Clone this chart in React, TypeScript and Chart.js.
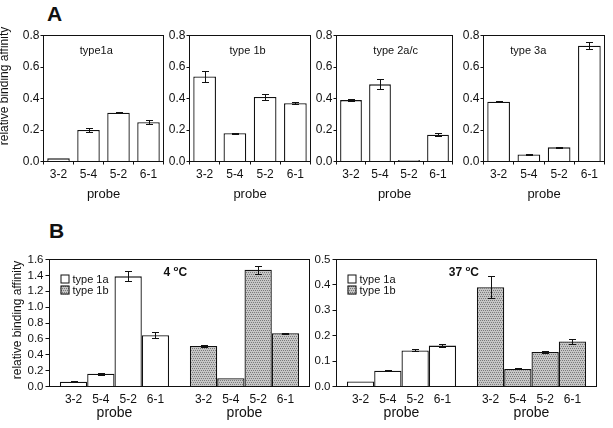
import React, { useEffect, useRef } from 'react';
import { Chart, registerables } from 'chart.js';

Chart.register(...registerables);

const FONT = '"Liberation Sans", Arial, Helvetica, sans-serif';
const INK = '#111';
Chart.defaults.font.family = FONT;
Chart.defaults.color = INK;

// ---------------- data ----------------
const probes = ['3-2', '5-4', '5-2', '6-1'];

// Panel A (relative binding affinity per probe)
const aType1a = [0.02, 0.2, 0.31, 0.25];
const aType1aErr = [0, 0.012, 0.005, 0.013];
const aType1b = [0.54, 0.18, 0.41, 0.37];
const aType1bErr = [0.034, 0.003, 0.018, 0.005];
const aType2ac = [0.39, 0.49, 0.01, 0.17];
const aType2acErr = [0.006, 0.032, 0, 0.008];
const aType3a = [0.38, 0.045, 0.09, 0.735];
const aType3aErr = [0.004, 0.002, 0.004, 0.023];
const aYMax = 0.8;
const aYStep = 0.2;

// Panel B
const bGroups = ['type 1a', 'type 1b'];
const b4cType1a = [0.06, 0.16, 1.388, 0.647];
const b4cType1aErr = [0.003, 0.01, 0.063, 0.038];
const b4cType1b = [0.51, 0.105, 1.47, 0.67];
const b4cType1bErr = [0.008, 0, 0.048, 0.01];
const b4cYMax = 1.6;
const b4cYStep = 0.2;
const b37cType1a = [0.02, 0.062, 0.142, 0.161];
const b37cType1aErr = [0, 0.001, 0.004, 0.007];
const b37cType1b = [0.391, 0.069, 0.136, 0.177];
const b37cType1bErr = [0.043, 0.002, 0.004, 0.009];
const b37cYMax = 0.5;
const b37cYStep = 0.1;

const yTitle = 'relative binding affinity';
const xTitle = 'probe';

// ---------------- helpers ----------------
type Box = { x: number; y: number; w: number; h: number };
type Area = { L: number; T: number; R: number; B: number };

let patternCache: CanvasPattern | null = null;
function greyPattern(): CanvasPattern {
  if (patternCache) return patternCache;
  const t = document.createElement('canvas');
  t.width = 4;
  t.height = 4;
  const g = t.getContext('2d')!;
  g.fillStyle = '#c6c6c6';
  g.fillRect(0, 0, 4, 4);
  g.fillStyle = '#7a7a7a';
  [[0, 0], [2, 0], [1, 2], [3, 2]].forEach(([px, py]) => g.fillRect(px, py, 1, 1));
  patternCache = g.createPattern(t, 'repeat')!;
  return patternCache;
}

function makeErrorBars(errs: number[][], cap: number) {
  return {
    id: 'errorBars',
    afterDatasetsDraw(chart: any) {
      const ctx = chart.ctx;
      const ys = chart.scales.y;
      ctx.save();
      ctx.strokeStyle = INK;
      ctx.lineWidth = 1;
      chart.data.datasets.forEach((ds: any, di: number) => {
        const meta = chart.getDatasetMeta(di);
        meta.data.forEach((el: any, i: number) => {
          const e = errs[di] ? errs[di][i] : 0;
          if (!e) return;
          const v = ds.data[i];
          const x = Math.round(el.x) + 0.5;
          const yTop = Math.round(ys.getPixelForValue(v + e)) + 0.5;
          const yBot = Math.round(ys.getPixelForValue(v - e)) + 0.5;
          ctx.beginPath();
          ctx.moveTo(x, yBot);
          ctx.lineTo(x, yTop);
          ctx.moveTo(x - cap, yTop);
          ctx.lineTo(x + cap, yTop);
          ctx.moveTo(x - cap, yBot);
          ctx.lineTo(x + cap, yBot);
          ctx.stroke();
        });
      });
      ctx.restore();
    },
  };
}

function drawFrame(chart: any) {
  const { ctx, chartArea: a } = chart;
  ctx.save();
  ctx.strokeStyle = INK;
  ctx.lineWidth = 1;
  ctx.strokeRect(a.left, a.top, a.right - a.left, a.bottom - a.top);
  ctx.restore();
}

function drawYTitle(chart: any, cx: number, cy: number, size: number) {
  const ctx = chart.ctx;
  ctx.save();
  ctx.translate(cx, cy);
  ctx.rotate(-Math.PI / 2);
  ctx.font = `${size}px ${FONT}`;
  ctx.fillStyle = INK;
  ctx.textAlign = 'center';
  ctx.textBaseline = 'middle';
  ctx.fillText(yTitle, 0, 0);
  ctx.restore();
}

function drawDegreeTitle(ctx: CanvasRenderingContext2D, cx: number, cy: number, num: string) {
  const big = `bold 12px ${FONT}`;
  const small = `bold 8px ${FONT}`;
  ctx.font = big;
  const w1 = ctx.measureText(num + ' ').width;
  const w3 = ctx.measureText('C').width;
  ctx.font = small;
  const w2 = ctx.measureText('o').width;
  let x = cx - (w1 + w2 + w3) / 2;
  ctx.fillStyle = INK;
  ctx.textAlign = 'left';
  ctx.textBaseline = 'alphabetic';
  ctx.font = big;
  ctx.fillText(num + ' ', x, cy + 4.5);
  x += w1;
  ctx.font = small;
  ctx.fillText('o', x, cy - 0.5);
  x += w2;
  ctx.font = big;
  ctx.fillText('C', x, cy + 4.5);
}

// ---------------- panel specs ----------------
type PanelA = {
  title: string;
  values: number[];
  errors: number[];
  canvas: Box;
  area: Area;
  titleFx: number;
  yTitle?: { x: number; y: number };
};

const panelsA: PanelA[] = [
  { title: 'type1a', values: aType1a, errors: aType1aErr, canvas: { x: 0, y: 20, w: 168, h: 185 }, area: { L: 43.5, T: 35.5, R: 163.5, B: 161.5 }, titleFx: 0.44, yTitle: { x: 5, y: 86 } },
  { title: 'type 1b', values: aType1b, errors: aType1bErr, canvas: { x: 160, y: 20, w: 155, h: 185 }, area: { L: 189.5, T: 35.5, R: 310.5, B: 161.5 }, titleFx: 0.48 },
  { title: 'type 2a/c', values: aType2ac, errors: aType2acErr, canvas: { x: 307, y: 20, w: 150, h: 185 }, area: { L: 336.5, T: 35.5, R: 452.5, B: 161.5 }, titleFx: 0.51 },
  { title: 'type 3a', values: aType3a, errors: aType3aErr, canvas: { x: 454, y: 20, w: 155, h: 185 }, area: { L: 483.5, T: 35.5, R: 604.5, B: 161.5 }, titleFx: 0.37 },
];

type PanelB = {
  temp: string;
  s1a: number[];
  s1aErr: number[];
  s1b: number[];
  s1bErr: number[];
  yMax: number;
  yStep: number;
  canvas: Box;
  area: Area;
  titleFx: number;
  yTitle?: { x: number; y: number };
};

const panelsB: PanelB[] = [
  { temp: '4', s1a: b4cType1a, s1aErr: b4cType1aErr, s1b: b4cType1b, s1bErr: b4cType1bErr, yMax: b4cYMax, yStep: b4cYStep, canvas: { x: 0, y: 240, w: 314, h: 188 }, area: { L: 49.5, T: 259.5, R: 309.5, B: 386.5 }, titleFx: 0.484, yTitle: { x: 18, y: 320 } },
  { temp: '37', s1a: b37cType1a, s1aErr: b37cType1aErr, s1b: b37cType1b, s1bErr: b37cType1bErr, yMax: b37cYMax, yStep: b37cYStep, canvas: { x: 300, y: 240, w: 306, h: 188 }, area: { L: 336.5, T: 259.5, R: 596.5, B: 386.5 }, titleFx: 0.49 },
];

// ---------------- config builders ----------------
function buildA(p: PanelA): any {
  const yW = p.area.L - p.canvas.x;
  const padTop = p.area.T - p.canvas.y;
  const padRight = p.canvas.x + p.canvas.w - p.area.R;
  const xH = p.canvas.y + p.canvas.h - p.area.B;
  const deco = {
    id: 'decoA',
    afterDraw(chart: any) {
      drawFrame(chart);
      const { ctx, chartArea: a } = chart;
      ctx.save();
      ctx.font = `11px ${FONT}`;
      ctx.fillStyle = INK;
      ctx.textAlign = 'center';
      ctx.textBaseline = 'middle';
      ctx.fillText(p.title, a.left + p.titleFx * (a.right - a.left), a.top + 15);
      ctx.restore();
      if (p.yTitle) drawYTitle(chart, p.yTitle.x - p.canvas.x, p.yTitle.y - p.canvas.y, 12);
    },
  };
  return {
    type: 'bar',
    data: {
      labels: probes,
      datasets: [
        {
          label: p.title,
          data: p.values,
          backgroundColor: '#ffffff',
          borderColor: INK,
          borderWidth: 1.3,
          borderSkipped: 'bottom',
          barPercentage: 0.75,
          categoryPercentage: 1,
        },
      ],
    },
    options: {
      responsive: false,
      animation: false,
      devicePixelRatio: 1,
      layout: { padding: { top: padTop, right: padRight, left: 0, bottom: 0 } },
      plugins: { legend: { display: false }, tooltip: { enabled: false } },
      scales: {
        x: {
          type: 'category',
          offset: true,
          border: { display: false },
          grid: { display: true, offset: true, drawOnChartArea: false, drawTicks: true, tickLength: 3, color: INK },
          ticks: { font: { size: 12 }, color: INK, padding: 3, autoSkip: false, maxRotation: 0 },
          title: { display: true, text: xTitle, font: { size: 13 }, color: INK, padding: { top: 0, bottom: 3 } },
          afterFit: (s: any) => {
            s.height = xH;
          },
        },
        y: {
          min: 0,
          max: aYMax,
          border: { display: false },
          grid: { drawOnChartArea: false, drawTicks: true, tickLength: 3, color: INK },
          ticks: { stepSize: aYStep, autoSkip: false, font: { size: 12 }, color: INK, padding: 1, callback: (v: any) => Number(v).toFixed(1) },
          afterFit: (s: any) => {
            s.width = yW;
          },
        },
      },
    },
    plugins: [makeErrorBars([p.errors], 3.5), deco],
  };
}

function buildB(p: PanelB): any {
  const yW = p.area.L - p.canvas.x;
  const padTop = p.area.T - p.canvas.y;
  const padRight = p.canvas.x + p.canvas.w - p.area.R;
  const xH = p.canvas.y + p.canvas.h - p.area.B;
  const pat = greyPattern();
  const fills = ['#ffffff', pat];
  const datasets = probes.map((probe, i) => ({
    label: probe,
    data: [p.s1a[i], p.s1b[i]],
    backgroundColor: fills,
    borderColor: INK,
    borderWidth: 1.3,
    borderSkipped: 'bottom',
    barPercentage: 1,
    categoryPercentage: 0.84,
  }));
  const errs = probes.map((_, i) => [p.s1aErr[i], p.s1bErr[i]]);
  const deco = {
    id: 'decoB',
    afterDraw(chart: any) {
      drawFrame(chart);
      const { ctx, chartArea: a } = chart;
      ctx.save();
      // probe names under every bar
      ctx.font = `12px ${FONT}`;
      ctx.fillStyle = INK;
      ctx.textAlign = 'center';
      ctx.textBaseline = 'middle';
      chart.data.datasets.forEach((ds: any, di: number) => {
        chart.getDatasetMeta(di).data.forEach((el: any) => {
          ctx.fillText(ds.label, el.x, a.bottom + 13.5);
        });
      });
      // legend
      const lx = a.left + 11;
      const ly = a.top + 15;
      bGroups.forEach((g, gi) => {
        const by = ly + gi * 11;
        ctx.fillStyle = fills[gi] as any;
        ctx.fillRect(lx, by, 9, 9);
        ctx.strokeStyle = INK;
        ctx.lineWidth = 1;
        ctx.strokeRect(lx + 0.5, by + 0.5, 8, 8);
        ctx.fillStyle = INK;
        ctx.font = `11px ${FONT}`;
        ctx.textAlign = 'left';
        ctx.textBaseline = 'middle';
        ctx.fillText(g, lx + 12, by + 5);
      });
      // temperature title
      drawDegreeTitle(ctx, a.left + p.titleFx * (a.right - a.left), a.top + 11.5, p.temp);
      ctx.restore();
      if (p.yTitle) drawYTitle(chart, p.yTitle.x - p.canvas.x, p.yTitle.y - p.canvas.y, 12);
    },
  };
  return {
    type: 'bar',
    data: { labels: bGroups, datasets },
    options: {
      responsive: false,
      animation: false,
      devicePixelRatio: 1,
      layout: { padding: { top: padTop, right: padRight, left: 0, bottom: 0 } },
      plugins: { legend: { display: false }, tooltip: { enabled: false } },
      scales: {
        x: {
          type: 'category',
          offset: true,
          border: { display: false },
          grid: { display: false, drawTicks: false },
          ticks: { font: { size: 14 }, color: INK, padding: 18, autoSkip: false, maxRotation: 0, callback: () => xTitle },
          afterFit: (s: any) => {
            s.height = xH;
          },
        },
        y: {
          min: 0,
          max: p.yMax,
          border: { display: false },
          grid: { drawOnChartArea: false, drawTicks: true, tickLength: 4, color: INK },
          ticks: { stepSize: p.yStep, autoSkip: false, font: { size: 11.5 }, color: INK, padding: 2, callback: (v: any) => Number(v).toFixed(1) },
          afterFit: (s: any) => {
            s.width = yW;
          },
        },
      },
    },
    plugins: [makeErrorBars(errs, 3.5), deco],
  };
}

// ---------------- components ----------------
function ChartCanvas({ box, build }: { box: Box; build: () => any }) {
  const ref = useRef<HTMLCanvasElement>(null);
  useEffect(() => {
    const c = ref.current;
    if (!c) return;
    const chart = new Chart(c, build());
    return () => chart.destroy();
  }, []);
  return (
    <canvas
      ref={ref}
      width={box.w}
      height={box.h}
      style={{ position: 'absolute', left: box.x, top: box.y, width: box.w, height: box.h }}
    />
  );
}

const panelLabelStyle = (left: number, top: number): React.CSSProperties => ({
  position: 'absolute',
  left,
  top,
  fontFamily: FONT,
  fontWeight: 'bold',
  fontSize: 21,
  lineHeight: '21px',
  color: INK,
});

export default function App() {
  return (
    <div style={{ position: 'absolute', left: 0, top: 0, width: 613, height: 428, background: '#fff', overflow: 'hidden' }}>
      <div style={panelLabelStyle(47, 3)}>A</div>
      <div style={panelLabelStyle(49, 220)}>B</div>
      {panelsA.map((p, i) => (
        <ChartCanvas key={'a' + i} box={p.canvas} build={() => buildA(p)} />
      ))}
      {panelsB.map((p, i) => (
        <ChartCanvas key={'b' + i} box={p.canvas} build={() => buildB(p)} />
      ))}
    </div>
  );
}
